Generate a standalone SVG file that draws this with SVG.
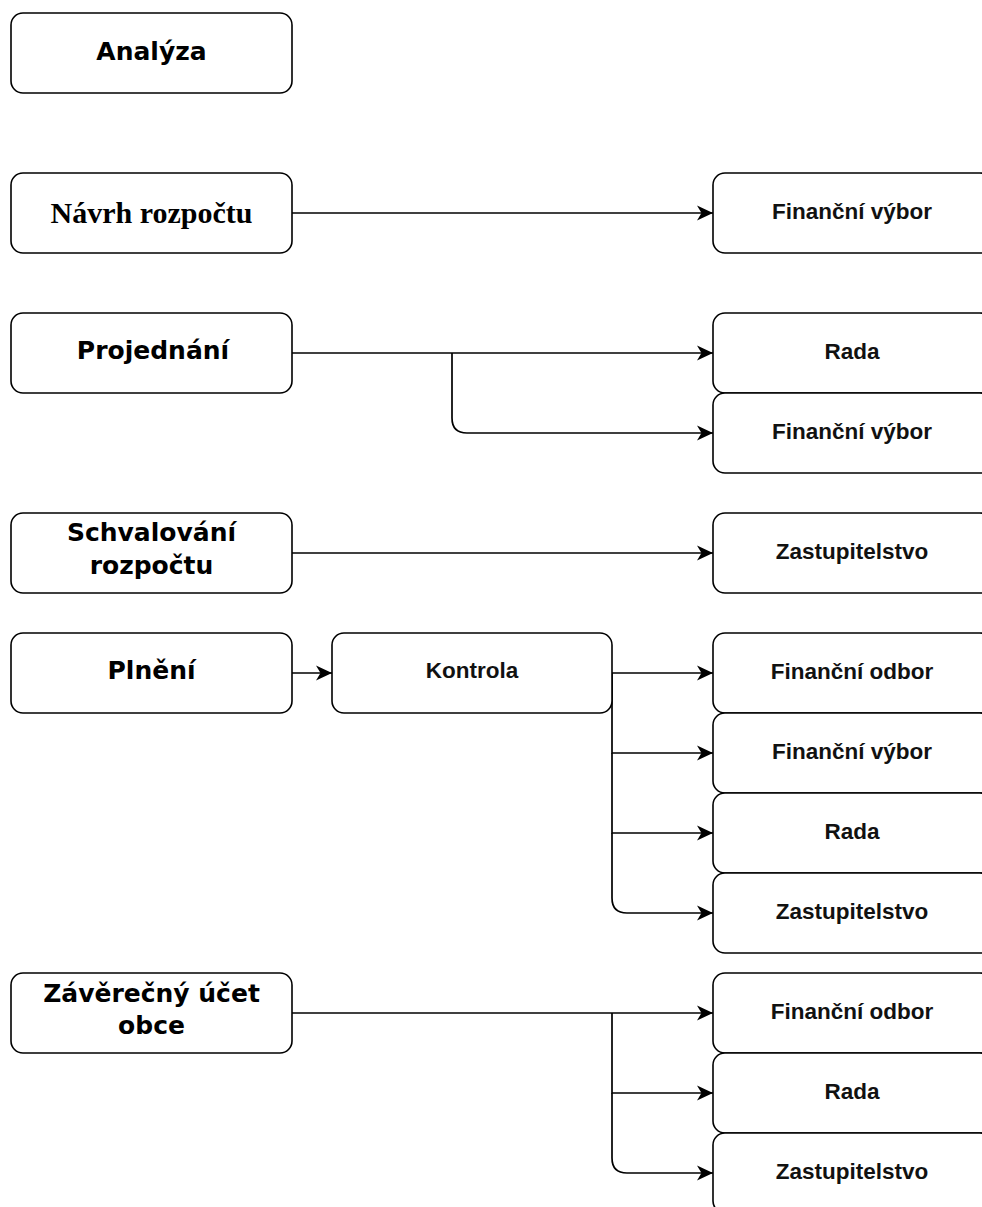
<svg xmlns="http://www.w3.org/2000/svg" width="982" height="1207" viewBox="0 0 982 1207">
  <defs>
    <style>
      .box { fill: #ffffff; stroke: #000000; stroke-width: 1.6; }
      .lt { font-family: "DejaVu Sans", Verdana, sans-serif; font-weight: bold; font-size: 25px; fill: #000000; text-anchor: middle; }
      .serif { font-family: "Liberation Serif", "Times New Roman", serif; font-weight: bold; font-size: 30px; fill: #000000; text-anchor: middle; }
      .rt { font-family: "Liberation Sans", Arial, sans-serif; font-weight: bold; font-size: 22.5px; fill: #111111; text-anchor: middle; }
      .edge { fill: none; stroke: #000000; stroke-width: 1.7; }
    </style>
    <marker id="arrow" markerUnits="userSpaceOnUse" markerWidth="18" markerHeight="18" viewBox="0 0 18 18" refX="17" refY="9" orient="auto">
      <path d="M17,9 L1,1.5 L5.5,9 L1,16.5 Z" fill="#000000"/>
    </marker>
  </defs>

  <rect width="982" height="1207" fill="#ffffff"/>

  <g id="connectors">
    <path class="edge" d="M292,213 H713" marker-end="url(#arrow)"/>
    <path class="edge" d="M292,353 H713" marker-end="url(#arrow)"/>
    <path class="edge" d="M452,353 V418 Q452,433 467,433 H713" marker-end="url(#arrow)"/>
    <path class="edge" d="M292,553 H713" marker-end="url(#arrow)"/>
    <path class="edge" d="M292,673 H332" marker-end="url(#arrow)"/>
    <path class="edge" d="M612,673 H713" marker-end="url(#arrow)"/>
    <path class="edge" d="M612,673 V753 H713" marker-end="url(#arrow)"/>
    <path class="edge" d="M612,753 V833 H713" marker-end="url(#arrow)"/>
    <path class="edge" d="M612,833 V898 Q612,913 627,913 H713" marker-end="url(#arrow)"/>
    <path class="edge" d="M292,1013 H713" marker-end="url(#arrow)"/>
    <path class="edge" d="M612,1013 V1093 H713" marker-end="url(#arrow)"/>
    <path class="edge" d="M612,1093 V1158 Q612,1173 627,1173 H713" marker-end="url(#arrow)"/>
  </g>

  <g id="analyza">
    <rect class="box" x="11" y="13" width="281" height="80" rx="12"/>
    <text class="lt" x="151.5" y="60">Analýza</text>
  </g>
  <g id="navrh">
    <rect class="box" x="11" y="173" width="281" height="80" rx="12"/>
    <text class="serif" x="151.5" y="223">Návrh rozpočtu</text>
  </g>
  <g id="projednani">
    <rect class="box" x="11" y="313" width="281" height="80" rx="12"/>
    <text class="lt" x="153" y="359">Projednání</text>
  </g>
  <g id="schvalovani">
    <rect class="box" x="11" y="513" width="281" height="80" rx="12"/>
    <text class="lt" x="151.5" y="541">Schvalování</text>
    <text class="lt" x="151.5" y="574">rozpočtu</text>
  </g>
  <g id="plneni">
    <rect class="box" x="11" y="633" width="281" height="80" rx="12"/>
    <text class="lt" x="151.5" y="679">Plnění</text>
  </g>
  <g id="kontrola">
    <rect class="box" x="332" y="633" width="280" height="80" rx="12"/>
    <text class="rt" x="472" y="678">Kontrola</text>
  </g>
  <g id="zaverecny">
    <rect class="box" x="11" y="973" width="281" height="80" rx="12"/>
    <text class="lt" x="151.5" y="1002">Závěrečný účet</text>
    <text class="lt" x="151.5" y="1034">obce</text>
  </g>

  <g id="r-navrh-fv">
    <rect class="box" x="713" y="173" width="279" height="80" rx="12"/>
    <text class="rt" x="852" y="219">Finanční výbor</text>
  </g>
  <g id="r-proj-rada">
    <rect class="box" x="713" y="313" width="279" height="80" rx="12"/>
    <text class="rt" x="852" y="359">Rada</text>
  </g>
  <g id="r-proj-fv">
    <rect class="box" x="713" y="393" width="279" height="80" rx="12"/>
    <text class="rt" x="852" y="439">Finanční výbor</text>
  </g>
  <g id="r-schv-zast">
    <rect class="box" x="713" y="513" width="279" height="80" rx="12"/>
    <text class="rt" x="852" y="559">Zastupitelstvo</text>
  </g>
  <g id="r-kontrola-fo">
    <rect class="box" x="713" y="633" width="279" height="80" rx="12"/>
    <text class="rt" x="852" y="679">Finanční odbor</text>
  </g>
  <g id="r-kontrola-fv">
    <rect class="box" x="713" y="713" width="279" height="80" rx="12"/>
    <text class="rt" x="852" y="759">Finanční výbor</text>
  </g>
  <g id="r-kontrola-rada">
    <rect class="box" x="713" y="793" width="279" height="80" rx="12"/>
    <text class="rt" x="852" y="839">Rada</text>
  </g>
  <g id="r-kontrola-zast">
    <rect class="box" x="713" y="873" width="279" height="80" rx="12"/>
    <text class="rt" x="852" y="919">Zastupitelstvo</text>
  </g>
  <g id="r-zav-fo">
    <rect class="box" x="713" y="973" width="279" height="80" rx="12"/>
    <text class="rt" x="852" y="1019">Finanční odbor</text>
  </g>
  <g id="r-zav-rada">
    <rect class="box" x="713" y="1053" width="279" height="80" rx="12"/>
    <text class="rt" x="852" y="1099">Rada</text>
  </g>
  <g id="r-zav-zast">
    <rect class="box" x="713" y="1133" width="279" height="80" rx="12"/>
    <text class="rt" x="852" y="1179">Zastupitelstvo</text>
  </g>
</svg>
